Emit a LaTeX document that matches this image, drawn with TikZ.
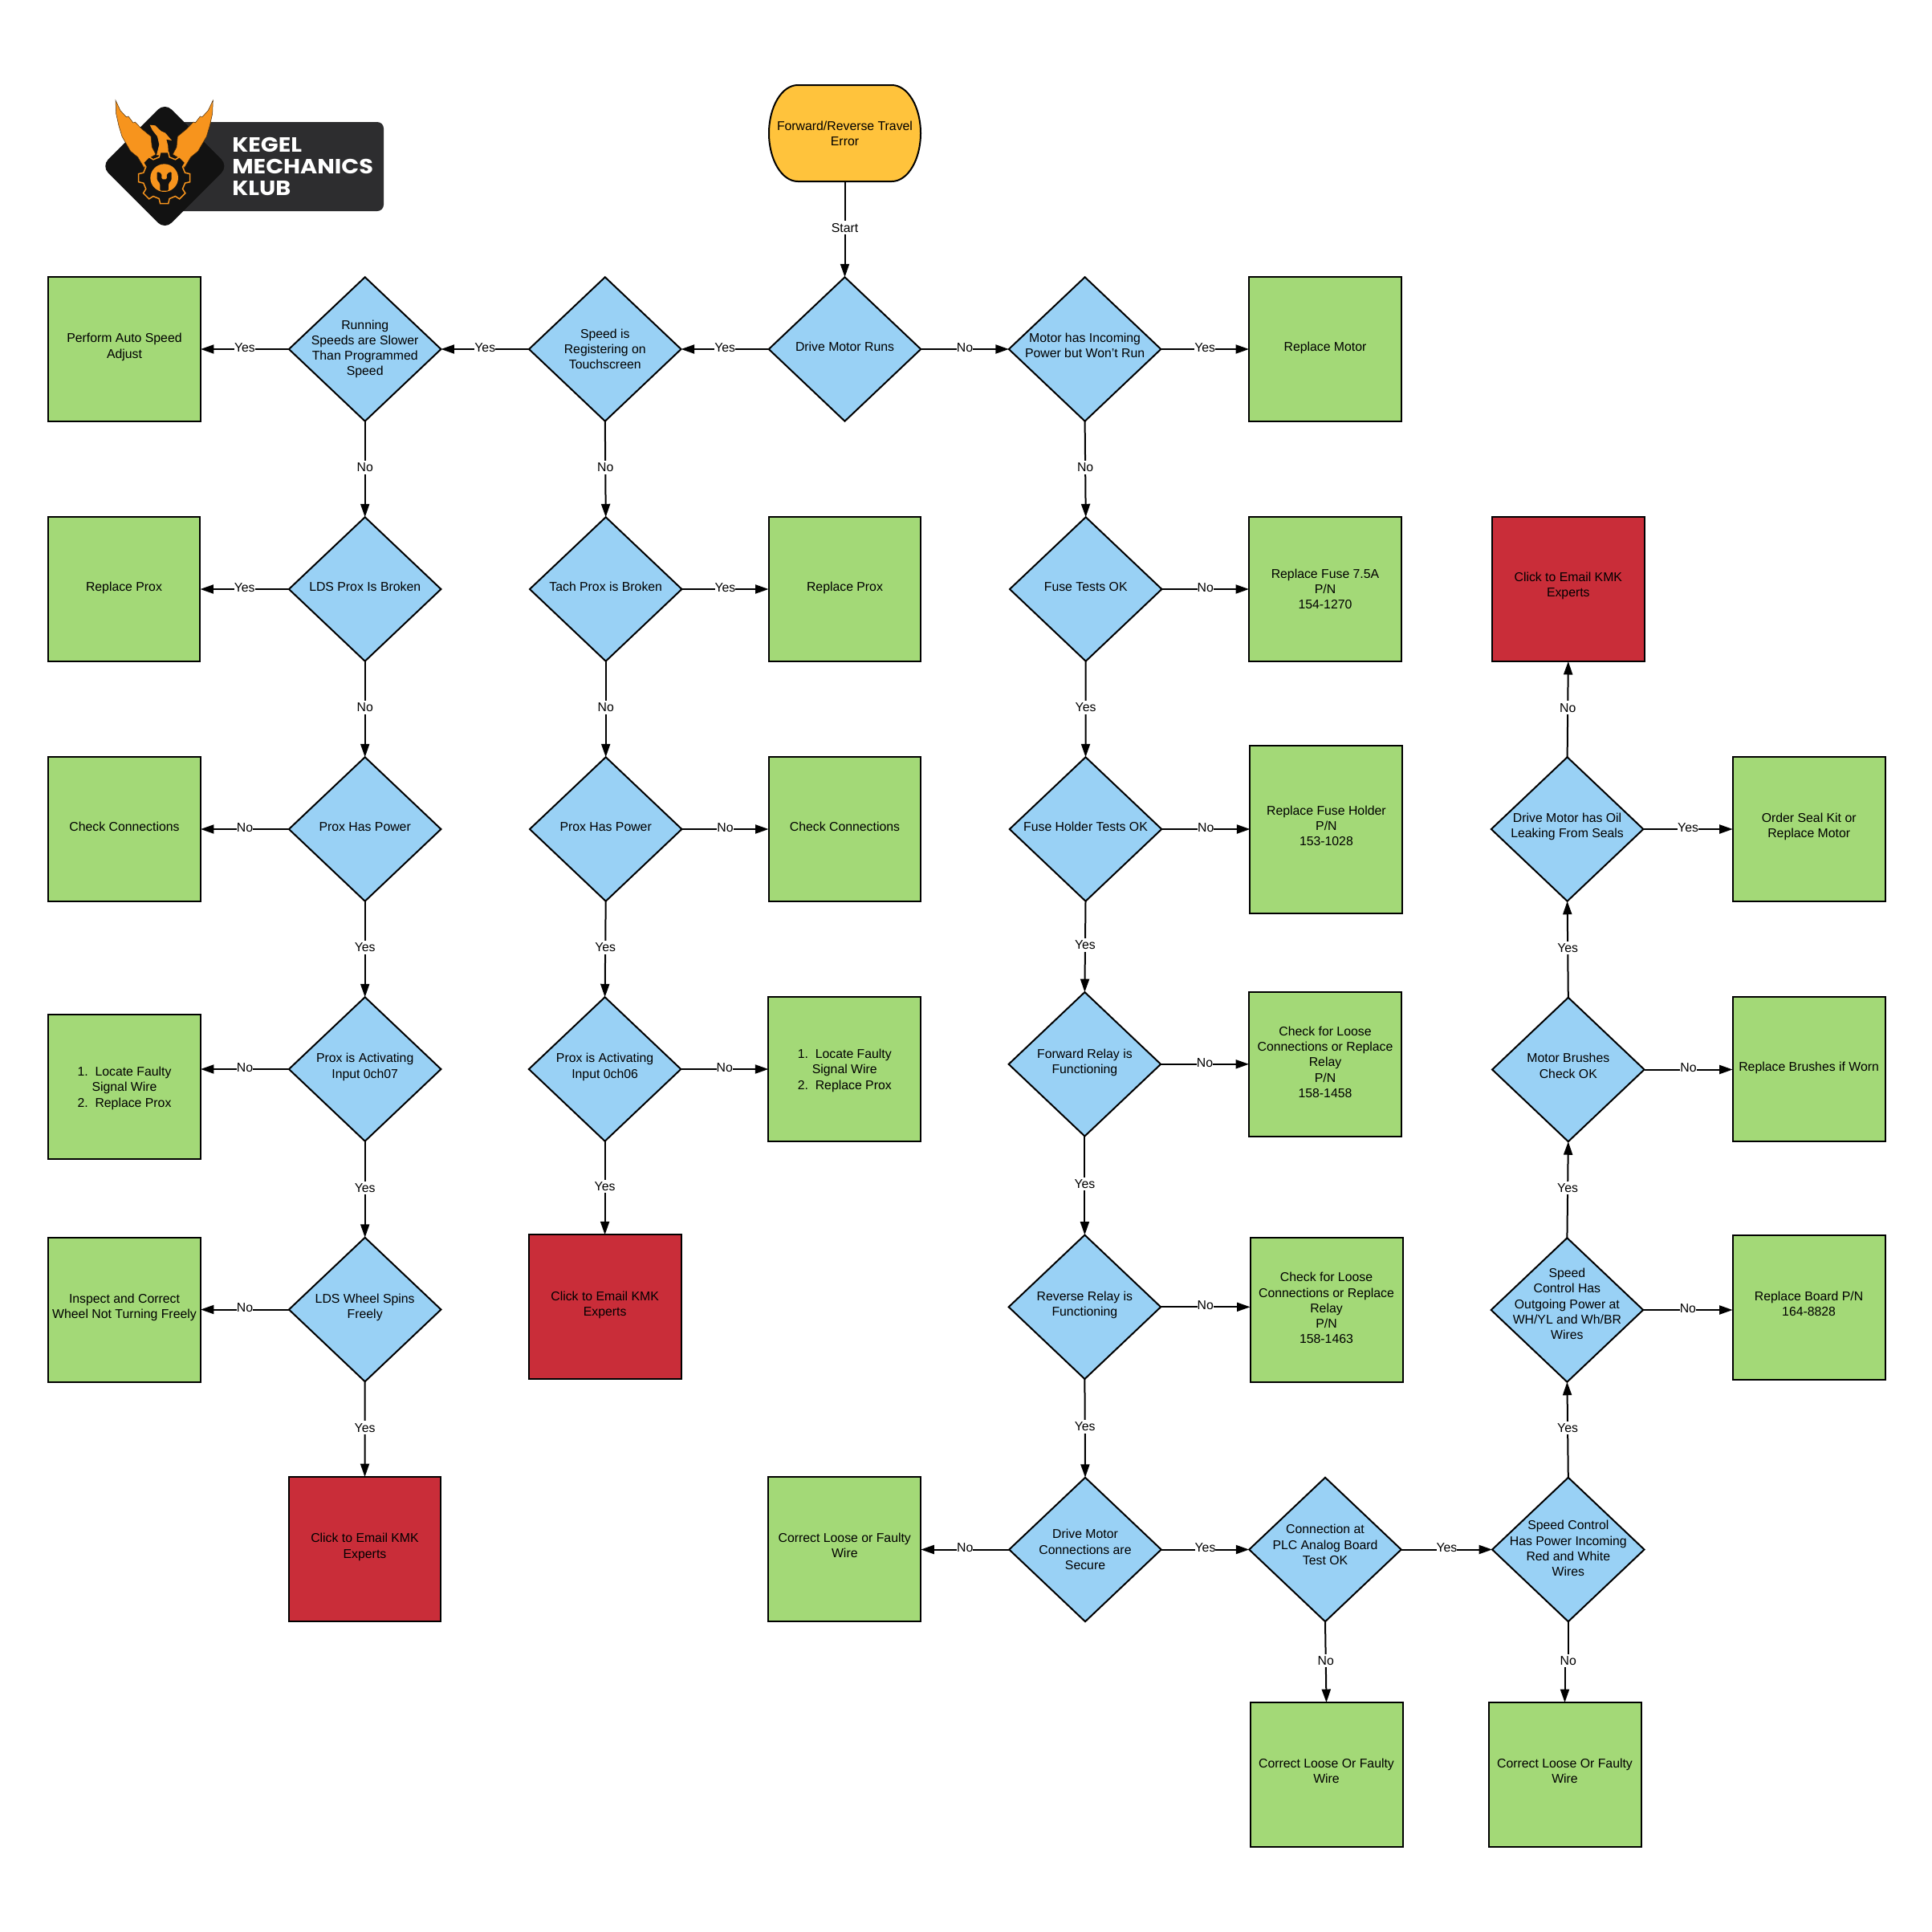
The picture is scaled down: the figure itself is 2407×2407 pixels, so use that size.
\documentclass[tikz,border=0pt]{standalone}
\usepackage{fontspec}
\setmainfont{Liberation Sans}
\newfontfamily\logofont[FakeStretch=1.12]{Poppins}
\usepackage{xcolor}
\usetikzlibrary{shapes.geometric,arrows.meta,calc}
\definecolor{decc}{HTML}{99D1F5}
\definecolor{fixc}{HTML}{A3D977}
\definecolor{redc}{HTML}{C92D39}
\definecolor{startc}{HTML}{FFC33C}
\definecolor{wingc}{HTML}{F7941D}
\definecolor{plate}{HTML}{2D2D2F}
\definecolor{badge}{HTML}{121212}
\tikzset{
  dec/.style={diamond,draw=black,fill=decc,line width=0.04cm,minimum width=3.79cm,minimum height=3.59cm,inner sep=0pt,outer sep=0pt},
  fix/.style={rectangle,draw=black,fill=fixc,line width=0.04cm,minimum width=3.8cm,minimum height=3.6cm,inner sep=0pt,outer sep=0pt},
  fixb/.style={fix,minimum height=4.18cm},
  red/.style={fix,fill=redc},
  strt/.style={rectangle,minimum width=3.78cm,minimum height=2.4cm,inner sep=0pt,outer sep=0pt},
  txt/.style={align=center,font=\fontsize{9}{10.95}\selectfont,inner sep=0pt},
  lab/.style={fill=white,font=\fontsize{9}{10.95}\selectfont,inner xsep=0pt,inner ysep=1.5pt,yshift=0.04cm},
  flow/.style={-{Triangle[length=3.3mm,width=2.2mm]},line width=0.04cm,black},
  % logo parts
  wing/.style={fill=wingc,draw=black!70!wingc,line width=0.01cm},
}
% style, name, x, y, text lift, text
\newcommand{\Place}[6]{%
  \node[#1] (#2) at (#3,#4) {};
  \node[txt,yshift=#5*0.02cm] (#2t) at (#2) {#6};
}
% from, to, name, text
\newcommand{\Hor}[4]{\draw[flow] (#1) -- node[lab] (#3) {#4} (#1 -| #2);}
\newcommand{\Ver}[4]{\draw[flow] (#1) -- node[lab] (#3) {#4} (#2);}

\begin{document}
\begin{tikzpicture}[x=0.02cm,y=-0.02cm]
  \useasboundingbox (0,0) rectangle (2407,2407);
  % logo
  \fill[plate,rounded corners=0.16cm] (218,152) rectangle (478,263);
  \begin{scope}[shift={(130,115)},x=0.00667cm,y=-0.00667cm]
    \fill[badge,rounded corners=0.24cm] (226,39) -- (463,276) -- (226,513) -- (-11,276) -- cycle;
    \draw[wing] (42,30) -- (60,68) -- (82,92) -- (90,90) -- (108,114) -- (115,111) -- (140,137) -- (174,165)
      -- (178,205) -- (192,232) -- (158,252) -- (150,284) -- (125,242) -- (98,220) -- (66,165) -- (54,125) -- (44,80) -- cycle;
    \draw[wing] (406,30) -- (388,68) -- (366,92) -- (358,90) -- (340,114) -- (333,111) -- (308,137) -- (274,165)
      -- (270,205) -- (256,232) -- (290,252) -- (298,284) -- (323,242) -- (350,220) -- (382,165) -- (394,125) -- (404,80) -- cycle;
    \fill[wingc] (170,122) -- (190,124) -- (212,145) -- (228,152) -- (252,180) -- (232,176) -- (238,200) -- (240,235)
      -- (195,235) -- (205,195) -- (198,165) -- (180,142) -- cycle;
    \begin{scope}[shift={(224,320)}]
      \draw[badge,fill=badge,draw=wingc,line width=0.03cm] (-14:80)
        \foreach \a in {0,45,...,315} { -- (\a-14:80) -- (\a-9:97) -- (\a+9:97) -- (\a+14:80) } -- cycle;
      \fill[wingc] (0,0) circle (52);
      \fill[badge,rounded corners=0.03cm] (-27,-24) -- (-27,8) -- (-16,20) -- (-16,48) -- (16,48) -- (16,20) -- (27,8)
        -- (27,-24) -- (10,-16) -- (10,5) -- (-10,5) -- (-10,-16) -- cycle;
    \end{scope}
  \end{scope}
  \node[align=left,anchor=west,text=white,inner sep=0pt,font=\logofont\bfseries\fontsize{14.6}{15.2}\selectfont] (logotxt) at (289,207.5) {KEGEL\\MECHANICS\\KLUB};
  % start
  \draw[fill=startc,line width=0.04cm] (958,166) .. controls (958,133) and (974,106) .. (994,106) -- (1111,106)
    .. controls (1131,106) and (1147,133) .. (1147,166) .. controls (1147,199) and (1131,226) .. (1111,226)
    -- (994,226) .. controls (974,226) and (958,199) .. (958,166) -- cycle;
  \Place{strt}{start}{1052.5}{166}{0}{Forward/Reverse Travel\\Error}
  % row by row
  \Place{fix}{autospd}{155}{435}{2.7}{Perform Auto Speed\\Adjust}
  \Place{dec}{running}{454.7}{435}{0}{Running\\Speeds are Slower\\Than Programmed\\Speed}
  \Place{dec}{speed}{753.8}{435}{0}{Speed is\\Registering on\\Touchscreen}
  \Place{dec}{drive}{1052.5}{435}{3}{Drive Motor Runs}
  \Place{dec}{incoming}{1351.6}{435}{4.4}{Motor has Incoming\\Power but Won't Run}
  \Place{fix}{motor}{1651}{435}{1.4}{Replace Motor}

  \Place{fix}{proxa}{154.5}{734}{1.3}{Replace Prox}
  \Place{dec}{ldsprox}{454.7}{734}{3}{LDS Prox Is Broken}
  \Place{dec}{tach}{754.7}{734}{3}{Tach Prox is Broken}
  \Place{fix}{proxb}{1052.5}{734}{1.3}{Replace Prox}
  \Place{dec}{fuse}{1352.7}{734}{3}{Fuse Tests OK}
  \Place{fix}{fusebox}{1651}{734}{0}{Replace Fuse 7.5A\\P/N\\154-1270}
  \Place{red}{redc}{1953.8}{734}{4}{Click to Email KMK\\Experts}

  \Place{fix}{conna}{155}{1033}{3}{Check Connections}
  \Place{dec}{powa}{454.7}{1033}{3}{Prox Has Power}
  \Place{dec}{powb}{754.7}{1033}{3}{Prox Has Power}
  \Place{fix}{connb}{1052.5}{1033}{3}{Check Connections}
  \Place{dec}{holder}{1352.5}{1033}{3}{Fuse Holder Tests OK}
  \Place{fixb}{holderbox}{1652.4}{1033.4}{4.7}{Replace Fuse Holder\\P/N\\153-1028}
  \Place{dec}{oil}{1952.6}{1033}{3}{Drive Motor has Oil\\Leaking From Seals}
  \Place{fix}{seal}{2253.7}{1033}{2.8}{Order Seal Kit or\\Replace Motor}

  \Place{fix}{loca}{155}{1354}{-1.7}{1.\ \ Locate Faulty\\Signal Wire\\2.\ \ Replace Prox}
  \Place{dec}{acta}{454.7}{1332}{2.5}{Prox is Activating\\Input 0ch07}
  \Place{dec}{actb}{753.6}{1332}{2.5}{Prox is Activating\\Input 0ch06}
  \Place{fix}{locb}{1052.3}{1332}{-1.7}{1.\ \ Locate Faulty\\Signal Wire\\2.\ \ Replace Prox}
  \Place{dec}{fwd}{1351.4}{1325.8}{2.2}{Forward Relay is\\Functioning}
  \Place{fix}{fwdbox}{1651}{1326}{2.7}{Check for Loose\\Connections or Replace\\Relay\\P/N\\158-1458}
  \Place{dec}{brush}{1953.8}{1332.5}{4.6}{Motor Brushes\\Check OK}
  \Place{fix}{brushbox}{2253.6}{1332}{1.3}{Replace Brushes if Worn}

  \Place{fix}{inspect}{155}{1631.5}{2.5}{Inspect and Correct\\Wheel Not Turning Freely}
  \Place{dec}{wheel}{454.7}{1631.5}{2.5}{LDS Wheel Spins\\Freely}
  \Place{red}{reda}{753.6}{1628.3}{2.5}{Click to Email KMK\\Experts}
  \Place{dec}{rev}{1351.4}{1628.3}{2.2}{Reverse Relay is\\Functioning}
  \Place{fix}{revbox}{1652.5}{1631.7}{1.9}{Check for Loose\\Connections or Replace\\Relay\\P/N\\158-1463}
  \Place{dec}{spout}{1952.4}{1632}{7.6}{Speed\\Control Has\\Outgoing Power at\\WH/YL and Wh/BR\\Wires}
  \Place{fix}{board}{2253.6}{1628.6}{4.6}{Replace Board P/N\\164-8828}

  \Place{red}{redb}{454.5}{1930}{2.5}{Click to Email KMK\\Experts}
  \Place{fix}{loose}{1052.3}{1930}{4.5}{Correct Loose or Faulty\\Wire}
  \Place{dec}{secure}{1352}{1930.5}{0}{Drive Motor\\Connections are\\Secure}
  \Place{dec}{plc}{1651}{1930.5}{6}{Connection at\\PLC Analog Board\\Test OK}
  \Place{dec}{sppow}{1953.8}{1930.5}{1.5}{Speed Control\\Has Power Incoming\\Red and White\\Wires}

  \Place{fix}{corra}{1652.5}{2211}{5}{Correct Loose Or Faulty\\Wire}
  \Place{fix}{corrb}{1949.5}{2211}{5}{Correct Loose Or Faulty\\Wire}
  % connectors
  \Ver{start.south}{drive.north}{lstart}{Start}
  \Hor{drive.west}{speed.east}{l1}{Yes}
  \Hor{speed.west}{running.east}{l2}{Yes}
  \Hor{running.west}{autospd.east}{l3}{Yes}
  \Hor{drive.east}{incoming.west}{l4}{No}
  \Hor{incoming.east}{motor.west}{l5}{Yes}
  \Ver{running.south}{ldsprox.north}{l6}{No}
  \Ver{speed.south}{tach.north}{l7}{No}
  \Ver{incoming.south}{fuse.north}{l8}{No}
  \Hor{ldsprox.west}{proxa.east}{l9}{Yes}
  \Hor{tach.east}{proxb.west}{l10}{Yes}
  \Hor{fuse.east}{fusebox.west}{l11}{No}
  \Ver{ldsprox.south}{powa.north}{l12}{No}
  \Ver{tach.south}{powb.north}{l13}{No}
  \Ver{fuse.south}{holder.north}{l14}{Yes}
  \Hor{powa.west}{conna.east}{l15}{No}
  \Hor{powb.east}{connb.west}{l16}{No}
  \Hor{holder.east}{holderbox.west}{l17}{No}
  \Ver{powa.south}{acta.north}{l18}{Yes}
  \Ver{powb.south}{actb.north}{l19}{Yes}
  \Ver{holder.south}{fwd.north}{l20}{Yes}
  \Hor{acta.west}{loca.east}{l21}{No}
  \Hor{actb.east}{locb.west}{l22}{No}
  \Hor{fwd.east}{fwdbox.west}{l23}{No}
  \Ver{acta.south}{wheel.north}{l24}{Yes}
  \Ver{actb.south}{reda.north}{l25}{Yes}
  \Ver{fwd.south}{rev.north}{l26}{Yes}
  \Hor{wheel.west}{inspect.east}{l27}{No}
  \Ver{wheel.south}{redb.north}{l28}{Yes}
  \Hor{rev.east}{revbox.west}{l29}{No}
  \Ver{rev.south}{secure.north}{l30}{Yes}
  \Hor{secure.west}{loose.east}{l31}{No}
  \Hor{secure.east}{plc.west}{l32}{Yes}
  \Hor{plc.east}{sppow.west}{l33}{Yes}
  \Ver{plc.south}{corra.north}{l34}{No}
  \coordinate (jog) at ($(sppow.south)!.5!(corrb.north)$);
  \draw[flow] (sppow.south) -- (sppow.south |- jog) -- (corrb.north |- jog) -- (corrb.north);
  \node[lab] (l35) at (sppow.south |- jog) {No};
  \Ver{sppow.north}{spout.south}{l36}{Yes}
  \Hor{spout.east}{board.west}{l37}{No}
  \Ver{spout.north}{brush.south}{l38}{Yes}
  \Hor{brush.east}{brushbox.west}{l39}{No}
  \Ver{brush.north}{oil.south}{l40}{Yes}
  \Hor{oil.east}{seal.west}{l41}{Yes}
  \Ver{oil.north}{redc.south}{l42}{No}
\end{tikzpicture}
\end{document}
